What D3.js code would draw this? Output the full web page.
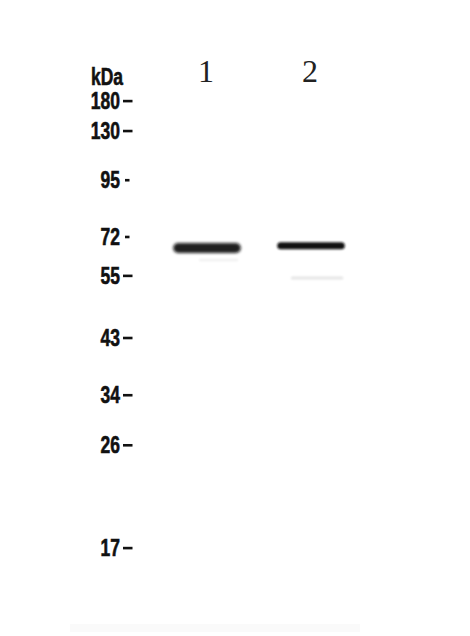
<!DOCTYPE html>
<html>
<head>
<meta charset="utf-8">
<script src="https://cdn.jsdelivr.net/npm/d3@7/dist/d3.min.js"></script>
<style>
  html, body { margin: 0; padding: 0; background: #fff; }
  svg { display: block; }
</style>
</head>
<body>
<svg id="chart" width="470" height="636"></svg>
<script>
// ---- data ----
const markerKDa      = [180, 130, 95, 72, 55, 43, 34, 26, 17];
const markerLabels   = ["180", "130", "95", "72", "55", "43", "34", "26", "17"];
const markerMobility = [0, 0.067, 0.177, 0.304, 0.391, 0.530, 0.658, 0.770, 1.0];
const lanes          = ["1", "2"];
const bandLane       = ["1", "2", "1", "2"];
const bandKDa        = [66.7, 67.7, 61.3, 54.5];
const bandIntensity  = [0.92, 0.98, 0.06, 0.10];
const bandThickness  = [10, 7, 2.5, 3];
const bandBlur       = [1.6, 1.0, 1.0, 1.0];
const bandInset      = [0, 0, 0.38, 0.2];

// ---- scales ----
const svg = d3.select("#chart");
const mobilityOf = d3.scaleLog().domain(markerKDa).range(markerMobility);
const y = d3.scaleLinear().domain([0, 1]).range([101, 548]);
const x = d3.scaleBand().domain(lanes).range([155, 363]).paddingInner(0.35).paddingOuter(0.175);

const defs = svg.append("defs");
bandBlur.forEach((b, i) => {
  defs.append("filter").attr("id", "blur" + i)
    .attr("x", "-10%").attr("y", "-100%").attr("width", "120%").attr("height", "300%")
    .append("feGaussianBlur").attr("stdDeviation", b);
});

svg.append("rect").attr("width", 470).attr("height", 636).attr("fill", "#ffffff");

const labelFont = "'Liberation Sans', Arial, sans-serif";
function condText(g, tx, ty, anchor, str) {
  g.append("g").attr("transform", `translate(${tx},${ty}) scale(0.76,1)`)
    .append("text")
    .attr("text-anchor", anchor)
    .attr("font-family", labelFont).attr("font-weight", "bold")
    .attr("font-size", 23).attr("fill", "#111")
    .attr("stroke", "#111").attr("stroke-width", 0.6)
    .text(str);
}

// ---- kDa title ----
condText(svg, 91, 85, "start", "kDa");

// ---- marker labels and dashes ----
const mk = svg.append("g");
markerKDa.forEach((k, i) => {
  const yy = y(markerMobility[i]);
  condText(mk, 120, yy + 8, "end", markerLabels[i]);
  const short = markerLabels[i] === "95" || markerLabels[i] === "72";
  mk.append("rect")
    .attr("x", short ? 125 : 123).attr("y", yy - 1.2)
    .attr("width", short ? 4.5 : 9.5).attr("height", 2.6)
    .attr("fill", "#111");
});

// ---- lane labels ----
svg.append("g").selectAll("text").data(lanes).join("text")
  .attr("x", d => x(d) + x.bandwidth() / 2 - 1)
  .attr("y", 82)
  .attr("text-anchor", "middle")
  .attr("font-family", "'Liberation Serif', 'Times New Roman', serif")
  .attr("font-size", 32).attr("fill", "#222")
  .text(d => d);

// ---- bands ----
svg.append("g").selectAll("rect").data(bandKDa).join("rect")
  .attr("x", (d, i) => x(bandLane[i]) + x.bandwidth() * bandInset[i])
  .attr("width", (d, i) => x.bandwidth() * (1 - bandInset[i] * 1.1))
  .attr("y", (d, i) => y(mobilityOf(d)) - bandThickness[i] / 2)
  .attr("height", (d, i) => bandThickness[i])
  .attr("rx", (d, i) => bandThickness[i] / 2)
  .attr("fill", "#0d0d0d")
  .attr("opacity", (d, i) => bandIntensity[i])
  .attr("filter", (d, i) => "url(#blur" + i + ")");

// faint bottom edge of membrane
svg.append("rect").attr("x", 70).attr("y", 624).attr("width", 290).attr("height", 8)
  .attr("fill", "#f7f7f7").attr("opacity", 0.6);
</script>
</body>
</html>
